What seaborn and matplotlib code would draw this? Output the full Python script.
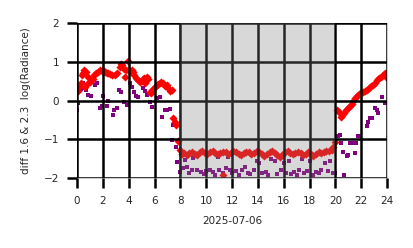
import matplotlib
matplotlib.use("Agg")
import matplotlib.pyplot as plt
import seaborn as sns
import pandas as pd

red_hours = [0.05, 0.15, 0.3, 0.4, 0.46, 0.55, 0.62, 0.7, 0.77, 0.85, 1.0, 1.1, 1.24, 1.35, 1.47, 1.63,
             1.8, 1.93, 2.05, 2.17, 2.3, 2.4, 2.55, 2.7, 2.94, 3.1, 3.3, 3.4, 3.5, 3.62, 3.7, 3.8, 3.95,
             4.05, 4.15, 4.26, 4.35, 4.45, 4.6, 4.7, 4.9, 5.0, 5.1, 5.2, 5.3, 5.4, 5.5, 5.65, 5.75, 5.9,
             6.05, 6.2, 6.3, 6.4, 6.5, 6.65, 6.8, 6.95, 7.05, 7.2, 7.35, 7.45, 7.6, 7.7, 7.85, 7.97,
             8.1, 8.3, 8.5, 8.7, 8.9, 9.1, 9.3, 9.5, 9.7, 9.9, 10.1, 10.3, 10.5, 10.7, 10.9, 11.1, 11.3,
             11.5, 11.7, 11.9, 12.1, 12.3, 12.5, 12.7, 12.9, 13.1, 13.3, 13.5, 13.7, 13.9, 14.1, 14.3,
             14.5, 14.7, 14.9, 15.1, 15.3, 15.5, 15.7, 15.9, 16.1, 16.3, 16.5, 16.7, 16.9, 17.1, 17.3,
             17.5, 17.7, 17.9, 18.1, 18.3, 18.5, 18.7, 18.9, 19.1, 19.3, 19.5, 19.7, 19.85, 19.95, 11.3,
             20.1, 20.25, 20.4, 20.5, 20.65, 20.8, 20.95, 21.1, 21.25, 21.4, 21.55, 21.7, 21.85, 22.0,
             22.15, 22.3, 22.45, 22.6, 22.75, 22.9, 23.05, 23.2, 23.35, 23.5, 23.65, 23.8, 23.9]
red_values = [0.25, 0.35, 0.45, 0.66, 0.72, 0.78, 0.35, 0.74, 0.42, 0.62, 0.48, 0.52, 0.55, 0.65, 0.72, 0.75,
              0.78, 0.76, 0.78, 0.74, 0.72, 0.70, 0.68, 0.66, 0.66, 0.72, 0.86, 0.95, 0.92, 0.82, 0.62, 0.80, 1.02,
              0.80, 0.75, 0.78, 0.74, 0.66, 0.58, 0.52, 0.48, 0.50, 0.55, 0.58, 0.45, 0.62, 0.55, 0.22, 0.20, 0.30,
              0.35, 0.40, 0.42, 0.45, 0.48, 0.45, 0.38, 0.40, 0.32, 0.25, 0.28, -0.45, -0.55, -0.63, -1.05, -1.28,
              -1.38, -1.35, -1.40, -1.36, -1.33, -1.37, -1.40, -1.34, -1.31, -1.36, -1.38, -1.33, -1.30, -1.35, -1.39, -1.36, -1.32,
              -1.34, -1.38, -1.35, -1.31, -1.33, -1.37, -1.40, -1.36, -1.32, -1.34, -1.38, -1.35, -1.30, -1.33, -1.37,
              -1.42, -1.38, -1.33, -1.30, -1.35, -1.40, -1.45, -1.40, -1.34, -1.31, -1.36, -1.39, -1.35, -1.32, -1.36,
              -1.40, -1.37, -1.33, -1.38, -1.42, -1.38, -1.34, -1.36, -1.32, -1.29, -1.31, -1.27, -1.20, -1.08, -1.92,
              -0.25, -0.30, -0.43, -0.38, -0.32, -0.25, -0.20, -0.14, -0.08, 0.0, 0.06, 0.12, 0.17, 0.20,
              0.22, 0.25, 0.28, 0.33, 0.37, 0.40, 0.45, 0.52, 0.58, 0.60, 0.66, 0.70, 0.62]

purple_hours = [0.0, 0.1, 0.3, 0.46, 0.55, 0.7, 0.85, 1.1, 1.4, 1.55, 1.8, 1.95, 2.0, 2.3, 2.4, 2.8, 2.9,
                3.1, 3.25, 3.4, 3.6, 3.9, 4.1, 4.25, 4.4, 4.6, 4.75, 5.1, 5.25, 5.4, 5.65, 5.8, 6.2, 6.4,
                6.6, 6.8, 6.95, 7.2, 7.35, 7.45, 7.65, 7.75, 7.95,
                8.2, 8.35, 8.5, 8.7, 8.9, 9.0, 9.3, 9.6, 9.8, 10.0, 10.3, 10.5, 10.7, 10.9, 11.0, 11.3,
                11.5, 11.7, 11.85, 12.0, 12.3, 12.5, 12.8, 13.0, 13.2, 13.4, 13.7, 13.9, 14.1, 14.3, 14.6,
                14.8, 15.0, 15.3, 15.5, 15.8, 16.0, 16.2, 16.4, 16.6, 16.8, 17.0, 17.2, 17.4, 17.6, 17.8,
                18.0, 18.3, 18.5, 18.7, 18.9, 19.2, 19.4, 19.6, 19.8, 19.95,
                20.2, 20.35, 20.45, 20.6, 20.7, 20.9, 21.0, 21.1, 21.3, 21.5, 21.6, 21.75, 21.9, 22.45,
                22.55, 22.7, 22.8, 23.05, 23.2, 23.3, 23.6, 23.8]
purple_values = [-0.25, -0.06, 0.30, 0.45, 0.32, 0.27, 0.14, 0.12, 0.40, 0.45, -0.20, -0.15, 0.12, -0.15, 0.0, -0.37, -0.25,
                 -0.20, 0.27, 0.22, -0.04, -0.12, 0.45, 0.35, 0.22, 0.12, 0.10, 0.32, 0.25, 0.14, -0.04, -0.17, 0.06, 0.10,
                 -0.42, -0.25, -0.25, -0.23, -1.02, -0.63, -1.20, -1.59, -1.85,
                 -1.75, -1.54, -1.72, -1.88, -1.80, -1.49, -1.78, -1.85, -1.90, -1.82, -1.78, -1.85, -1.92, -1.46, -1.80, -1.88,
                 -1.75, -1.46, -1.80, -1.88, -1.82, -1.92, -1.78, -1.72, -1.86, -1.90, -1.80, -1.55, -1.62, -1.88, -1.84,
                 -1.92, -1.52, -1.55, -1.90, -1.80, -1.60, -1.88, -1.55, -1.90, -1.84, -1.92, -1.78, -1.50, -1.88, -1.82,
                 -1.55, -1.92, -1.84, -1.88, -1.78, -1.62, -1.82, -1.55, -1.87, -1.88,
                 -0.92, -0.89, -1.10, -1.33, -1.92, -1.43, -1.40, -1.10, -1.10, -1.35, -1.10, -0.92, -0.92, -0.66,
                 -0.56, -0.45, -0.45, -0.20, -0.25, -0.32, 0.09, -0.06]

shade_start, shade_end = 8, 20
x_ticks = list(range(0, 25, 2))
y_ticks = [-2, -1, 0, 1, 2]
x_label = "2025-07-06"
y_label = "diff 1.6 & 2.3  log(Radiance)"

red_df = pd.DataFrame({"hour": red_hours, "value": red_values})
purple_df = pd.DataFrame({"hour": purple_hours, "value": purple_values})

sns.set_style("white")
plt.rcParams["font.family"] = ["DejaVu Sans"]

fig = plt.figure(figsize=(4.14, 2.48), dpi=100)
ax = fig.add_axes([0.186, 0.282, 0.749, 0.625])

sns.scatterplot(data=purple_df, x="hour", y="value", ax=ax, color="purple", marker="s",
                s=7, linewidth=0, zorder=2)
sns.scatterplot(data=red_df, x="hour", y="value", ax=ax, color="red", marker="D",
                s=17, linewidth=0, zorder=2)
ax.axvspan(shade_start, shade_end, color="gray", alpha=0.3, linewidth=0, zorder=3)

ax.set_xlim(0, 24)
ax.set_ylim(-2, 2)
ax.set_xticks(x_ticks)
ax.set_yticks(y_ticks)
ax.grid(True, color="black", linewidth=1.8)
ax.set_axisbelow(False)
for sp in ax.spines.values():
    sp.set_color("#cccccc")
    sp.set_linewidth(0.8)
ax.tick_params(axis="both", which="major", length=7, width=1.8, color="black", labelsize=7.5,
               bottom=True, left=True, pad=6)
ax.set_xlabel(x_label, fontsize=7.5, labelpad=7)
ax.set_ylabel(y_label, fontsize=7.5, labelpad=9)

fig.savefig("out.png", dpi=100)
